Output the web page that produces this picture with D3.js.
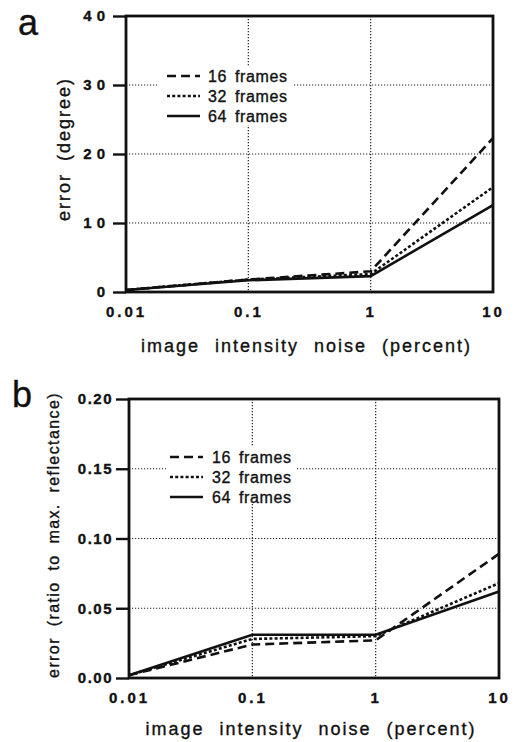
<!DOCTYPE html>
<html>
<head>
<meta charset="utf-8">
<script src="https://cdn.jsdelivr.net/npm/d3@7"></script>
<style>
  body { margin: 0; background: #fff; }
  svg { display: block; font-family: "Liberation Sans", Arial, sans-serif; }
  text { stroke: #111; stroke-width: 0.35px; }
</style>
</head>
<body>
<svg id="fig" width="516" height="742"></svg>
<script>
// x values (percent noise) and tick labels
var noise = [0.01, 0.1, 1, 10];
var xTickLabels = ["0.01", "0.1", "1", "10"];
var seriesNames = ["16 frames", "32 frames", "64 frames"];

// panel a : angle error (degree)
var angle16 = [0.3, 1.8, 3.0, 22.3];
var angle32 = [0.3, 1.8, 2.6, 15.2];
var angle64 = [0.3, 1.7, 2.3, 12.6];
var yTicksA = [0, 10, 20, 30, 40];
var yTickLabelsA = ["0", "10", "20", "30", "40"];

// panel b : reflectance error (ratio)
var refl16 = [0.002, 0.024, 0.027, 0.089];
var refl32 = [0.002, 0.028, 0.030, 0.068];
var refl64 = [0.002, 0.031, 0.031, 0.062];
var yTicksB = [0, 0.05, 0.10, 0.15, 0.20];
var yTickLabelsB = ["0.00", "0.05", "0.10", "0.15", "0.20"];

var dashes = ["9,5", "3,2.2", null];

var svg = d3.select("#fig");

function drawPanel(p) {
    var x = d3.scaleLog().domain([0.01, 10]).range([p.left, p.right]);
    var y = d3.scaleLinear().domain([p.yTicks[0], p.yTicks[p.yTicks.length - 1]]).range([p.bottom, p.top]);
    var g = svg.append("g");

    // grid (dotted)
    g.selectAll(".hgrid")
        .data(p.yTicks.slice(1, -1))
        .enter()
        .append("line")
        .attr("x1", p.left).attr("x2", p.right)
        .attr("y1", function(d){ return y(d); })
        .attr("y2", function(d){ return y(d); })
        .attr("stroke", "#222").attr("stroke-width", 1.2)
        .attr("stroke-dasharray", "1.2,1.8");
    g.selectAll(".vgrid")
        .data(noise.slice(1, -1))
        .enter()
        .append("line")
        .attr("y1", p.top).attr("y2", p.bottom)
        .attr("x1", function(d){ return x(d); })
        .attr("x2", function(d){ return x(d); })
        .attr("stroke", "#222").attr("stroke-width", 1.2)
        .attr("stroke-dasharray", "1.2,1.8");

    // legend background hides the grid
    g.append("rect")
        .attr("x", p.legBox[0]).attr("y", p.legBox[1])
        .attr("width", p.legBox[2]).attr("height", p.legBox[3])
        .attr("fill", "#fff");

    // data lines
    var line = d3.line()
        .x(function(d, i){ return x(noise[i]); })
        .y(function(d){ return y(d); });
    p.series.forEach(function(s, k) {
        g.append("path")
            .attr("d", line(s))
            .attr("fill", "none")
            .attr("stroke", "#111")
            .attr("stroke-width", 2.6)
            .attr("stroke-dasharray", dashes[k]);
    });

    // frame
    g.append("rect")
        .attr("x", p.left).attr("y", p.top)
        .attr("width", p.right - p.left).attr("height", p.bottom - p.top)
        .attr("fill", "none").attr("stroke", "#111").attr("stroke-width", 2.8);

    // y axis
    var yAxis = d3.axisLeft(y)
        .tickValues(p.yTicks)
        .tickFormat(function(d, i){ return p.yTickLabels[i]; })
        .tickSize(13).tickSizeOuter(0).tickPadding(3);
    var ya = g.append("g")
        .attr("transform", "translate(" + p.left + ",0)")
        .call(yAxis);
    ya.select(".domain").remove();
    ya.selectAll("line").attr("stroke", "#111").attr("stroke-width", 2.4);
    ya.selectAll("text")
        .attr("font-size", 15).attr("font-weight", "bold")
        .attr("letter-spacing", p.yLetter)
        .attr("fill", "#111");

    // x axis
    var xAxis = d3.axisBottom(x)
        .tickValues(noise)
        .tickFormat(function(d, i){ return xTickLabels[i]; })
        .tickSize(0).tickPadding(p.xPad);
    var xa = g.append("g")
        .attr("transform", "translate(0," + p.bottom + ")")
        .call(xAxis);
    xa.select(".domain").remove();
    xa.selectAll("text")
        .attr("font-size", 15).attr("font-weight", "bold")
        .attr("letter-spacing", "3px")
        .attr("fill", "#111");

    // axis titles
    g.append("text")
        .attr("x", (p.left + p.right) / 2 - 3)
        .attr("y", p.xTitleY)
        .attr("text-anchor", "middle")
        .attr("font-size", 18)
        .attr("letter-spacing", "2px")
        .attr("word-spacing", "8px")
        .attr("fill", "#111")
        .text("image intensity noise (percent)");
    g.append("text")
        .attr("transform", "translate(" + p.yTitle[0] + "," + p.yTitle[1] + ") rotate(-90)")
        .attr("text-anchor", "middle")
        .attr("font-size", p.yTitleSize)
        .attr("letter-spacing", p.yTitleLetter)
        .attr("word-spacing", "5px")
        .attr("fill", "#111")
        .text(p.yTitleText);

    // panel letter
    g.append("text")
        .attr("x", p.letterPos[0]).attr("y", p.letterPos[1])
        .attr("font-size", 36)
        .attr("fill", "#111")
        .text(p.letter);

    // legend
    var leg = g.selectAll(".leg")
        .data(seriesNames)
        .enter()
        .append("g")
        .attr("transform", function(d, i){
            return "translate(" + p.legPos[0] + "," + (p.legPos[1] + i * 20) + ")";
        });
    leg.append("line")
        .attr("x1", 0).attr("x2", 33)
        .attr("y1", 0).attr("y2", 0)
        .attr("stroke", "#111").attr("stroke-width", 2.6)
        .attr("stroke-dasharray", function(d, i){ return dashes[i]; });
    leg.append("text")
        .attr("x", p.legTextX).attr("y", 0)
        .attr("dy", "0.36em")
        .attr("font-size", 16)
        .attr("letter-spacing", "0.6px")
        .attr("word-spacing", "3px")
        .attr("fill", "#111")
        .text(function(d){ return d; });
}

drawPanel({
    left: 126, right: 493, top: 16, bottom: 292,
    yTicks: yTicksA, yTickLabels: yTickLabelsA, yLetter: "5px",
    series: [angle16, angle32, angle64],
    xPad: 14, xTitleY: 352,
    yTitle: [70, 149], yTitleSize: 18, yTitleLetter: "2px",
    yTitleText: "error (degree)",
    letter: "a", letterPos: [18, 35],
    legBox: [157, 66, 136, 59], legPos: [167, 76], legTextX: 41
});

drawPanel({
    left: 129, right: 499, top: 399, bottom: 678,
    yTicks: yTicksB, yTickLabels: yTickLabelsB, yLetter: "1.5px",
    series: [refl16, refl32, refl64],
    xPad: 14, xTitleY: 735,
    yTitle: [59, 535], yTitleSize: 16, yTitleLetter: "1.4px",
    yTitleText: "error (ratio to max. reflectance)",
    letter: "b", letterPos: [12, 407],
    legBox: [166, 446, 131, 58], legPos: [170, 457], legTextX: 42
});
</script>
</body>
</html>
